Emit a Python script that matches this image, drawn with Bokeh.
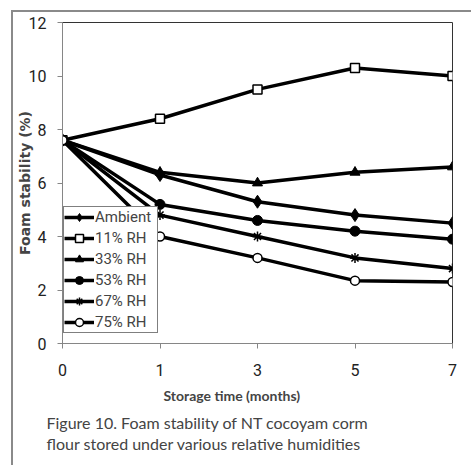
from bokeh.plotting import figure
from bokeh.models import Range1d, FixedTicker, Legend, LegendItem, Title
from bokeh.embed import file_html
from bokeh.resources import INLINE

# ---- data ----
months = ["0", "1", "3", "5", "7"]
ambient = [7.6, 6.3, 5.3, 4.8, 4.5]
rh11 = [7.6, 8.4, 9.5, 10.3, 10.0]
rh33 = [7.6, 6.4, 6.0, 6.4, 6.6]
rh53 = [7.6, 5.2, 4.6, 4.2, 3.9]
rh67 = [7.6, 4.8, 4.0, 3.2, 2.8]
rh75 = [7.6, 4.0, 3.2, 2.35, 2.3]
series_names = ["Ambient", "11% RH", "33% RH", "53% RH", "67% RH", "75% RH"]
y_ticks = [0, 2, 4, 6, 8, 10, 12]

TICKFONT = "Roboto"

xs = list(range(len(months)))

p = figure(width=460, height=455, output_backend="svg", toolbar_location=None,
           x_range=Range1d(0, len(months) - 1), y_range=Range1d(0, 12),
           min_border_left=47, min_border_right=21, min_border_top=10, min_border_bottom=124)
# outer gray frame (left and top edges), as in the source figure
p.styles = {"border-left": "2px solid #8a8a8a", "border-top": "2px solid #8a8a8a",
            "margin-left": "11px", "margin-top": "10px"}

p.grid.visible = False
p.background_fill_color = "white"
p.border_fill_color = "white"
p.outline_line_color = "#333333"
p.outline_line_width = 1

p.xaxis.ticker = FixedTicker(ticks=xs)
p.xaxis.major_label_overrides = {i: m for i, m in enumerate(months)}
p.yaxis.ticker = FixedTicker(ticks=y_ticks)

for ax in (p.xaxis[0], p.yaxis[0]):
    ax.axis_line_color = "#868686"
    ax.major_tick_line_color = "#868686"
    ax.major_tick_out = 5
    ax.major_tick_in = 0
    ax.minor_tick_line_color = None
    ax.major_label_text_font = TICKFONT
    ax.major_label_text_font_size = "16px"
    ax.major_label_text_color = "#222222"

p.yaxis.major_label_standoff = 11
p.xaxis.major_label_standoff = 15

p.yaxis.axis_label = "Foam stability (%)"
p.yaxis.axis_label_text_font = "DejaVu Sans"
p.yaxis.axis_label_text_font_style = "bold"
p.yaxis.axis_label_text_font_size = "14px"
p.yaxis.axis_label_standoff = -7

p.add_layout(Title(text="Storage time (months)", align="left", offset=101,
                   text_font="Lato", text_font_style="bold", text_font_size="14px",
                   standoff=13), "below")
p.add_layout(Title(text="Figure 10. Foam stability of NT cocoyam corm", align="left", offset=-16,
                   text_font="Lato", text_font_style="normal", text_font_size="16px",
                   standoff=0), "below")
p.add_layout(Title(text="flour stored under various relative humidities", align="left", offset=-16,
                   text_font="Lato", text_font_style="normal", text_font_size="16px",
                   standoff=0), "below")

data = [ambient, rh11, rh33, rh53, rh67, rh75]
markers = [
    dict(marker="diamond", size=13, fill_color="black", line_color="black", line_width=1),
    dict(marker="square", size=9, fill_color="white", line_color="black", line_width=1.5),
    dict(marker="triangle", size=10, fill_color="black", line_color="black", line_width=1),
    dict(marker="circle", size=10, fill_color="black", line_color="black", line_width=1),
    dict(marker="asterisk", size=10, fill_color=None, line_color="black", line_width=1.5),
    dict(marker="circle", size=9, fill_color="white", line_color="black", line_width=1.5),
]

items = []
for name, ys, mk in zip(series_names, data, markers):
    ln = p.line(xs, ys, line_color="black", line_width=3.5)
    sc = p.scatter(xs, ys, **mk)
    items.append(LegendItem(label=name, renderers=[ln, sc]))

legend = Legend(items=items, location=(1, 10), margin=0, padding=0, spacing=1,
                label_height=20, glyph_height=20, glyph_width=30, label_standoff=1,
                label_width=62,
                label_text_font=TICKFONT, label_text_font_size="15px",
                border_line_color="black", border_line_width=1,
                background_fill_color="white", background_fill_alpha=1)
p.add_layout(legend)

open("out.html", "w").write(file_html(p, INLINE))
